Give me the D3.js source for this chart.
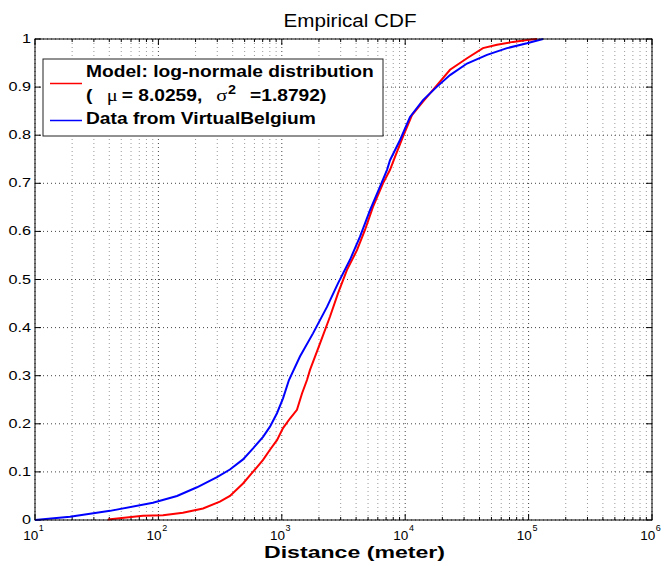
<!DOCTYPE html>
<html><head><meta charset="utf-8">
<script src="https://cdn.jsdelivr.net/npm/d3@7"></script>
<style>body{margin:0;background:#fff}svg{display:block}text{font-family:"Liberation Sans",Arial,Helvetica,sans-serif}</style>
</head><body><svg id="c" width="665" height="566"></svg>
<script>
// Data (distance in meters, cumulative probability)
const dataX = [10,19.2,40.6,90.3,141.5,205.6,298.5,380,485,585,705,802,914,1023,1143,1403,1790,2324,2853,3570,4303,5188,6252,7125,7535,9085,10943,13940,18110,23080,31700,46030,66840,97070,130900];
const dataY = [0,0.007,0.019,0.036,0.050,0.068,0.089,0.105,0.126,0.149,0.173,0.194,0.222,0.253,0.291,0.340,0.388,0.443,0.492,0.541,0.589,0.644,0.693,0.728,0.748,0.790,0.838,0.873,0.901,0.925,0.949,0.967,0.981,0.991,1.0];
const modelX = [39,75,109,158,230,315,380,485,630,705,802,914,1023,1165,1327,1458,1600,1693,2041,2460,2853,3374,4066,4721,5481,6607,7535,8265,9594,11350,13940,18110,23080,31700,42660,55460,74820,97070,117000];
const modelY = [0.001,0.009,0.010,0.015,0.024,0.038,0.050,0.076,0.110,0.125,0.146,0.166,0.191,0.211,0.229,0.263,0.291,0.312,0.367,0.423,0.471,0.520,0.561,0.603,0.651,0.700,0.728,0.755,0.797,0.842,0.870,0.904,0.936,0.960,0.981,0.988,0.994,0.998,1.0];
const xTickExps = [1,2,3,4,5,6];
const yTicks = [0,0.1,0.2,0.3,0.4,0.5,0.6,0.7,0.8,0.9,1];
const yTickLabels = ["0","0.1","0.2","0.3","0.4","0.5","0.6","0.7","0.8","0.9","1"];
const legendLabels = ["Model: log-normale distribution","Data from VirtualBelgium"];

const L=35,R=652,T=39,B=520;
const SX=1.2; // horizontal stretch of the reference's text
const svg=d3.select("#c");
const x=d3.scaleLog().domain([10,1e6]).range([L,R]);
const y=d3.scaleLinear().domain([0,1]).range([B,T]);

const minor=[];
for(let e=1;e<6;e++){for(let k=2;k<=9;k++){minor.push(k*Math.pow(10,e));}}
const major=xTickExps.map(e=>Math.pow(10,e));

const g=svg.append("g");
g.selectAll(".gm").data(minor).join("line").attr("x1",d=>x(d)).attr("x2",d=>x(d)).attr("y1",T).attr("y2",B)
 .attr("stroke","#999").attr("stroke-width",1).attr("stroke-dasharray","1,3");
g.selectAll(".gM").data(major).join("line").attr("x1",d=>x(d)).attr("x2",d=>x(d)).attr("y1",T).attr("y2",B)
 .attr("stroke","#444").attr("stroke-width",1).attr("stroke-dasharray","1,3");
g.selectAll(".gy").data(yTicks).join("line").attr("x1",L).attr("x2",R).attr("y1",d=>y(d)).attr("y2",d=>y(d))
 .attr("stroke","#444").attr("stroke-width",1).attr("stroke-dasharray","1,3");

const tk=svg.append("g").attr("stroke","#000").attr("stroke-width",1);
major.forEach(d=>{tk.append("line").attr("x1",x(d)).attr("x2",x(d)).attr("y1",B).attr("y2",B-6);
  tk.append("line").attr("x1",x(d)).attr("x2",x(d)).attr("y1",T).attr("y2",T+6);});
minor.forEach(d=>{tk.append("line").attr("x1",x(d)).attr("x2",x(d)).attr("y1",B).attr("y2",B-3);
  tk.append("line").attr("x1",x(d)).attr("x2",x(d)).attr("y1",T).attr("y2",T+3);});
yTicks.forEach(d=>{tk.append("line").attr("x1",L).attr("x2",L+6).attr("y1",y(d)).attr("y2",y(d));
  tk.append("line").attr("x1",R).attr("x2",R-6).attr("y1",y(d)).attr("y2",y(d));});

const line=d3.line().x(d=>x(d[0])).y(d=>y(d[1]));
svg.append("path").datum(modelX.map((v,i)=>[v,modelY[i]])).attr("d",line).attr("fill","none").attr("stroke","#ff0000").attr("stroke-width",2);
svg.append("path").datum(dataX.map((v,i)=>[v,dataY[i]])).attr("d",line).attr("fill","none").attr("stroke","#0000ff").attr("stroke-width",2);

svg.append("rect").attr("x",L).attr("y",T).attr("width",R-L).attr("height",B-T).attr("fill","none").attr("stroke","#000").attr("stroke-width",1);

// y labels
svg.selectAll(".yl").data(yTicks).join("text")
 .attr("transform",d=>`translate(31,${y(d)+4}) scale(${SX},1)`)
 .attr("text-anchor","end").attr("font-size",13.5).text((d,i)=>yTickLabels[i]);
// x labels: base "10" and exponent as separate texts
xTickExps.forEach(e=>{
  const px=x(Math.pow(10,e));
  svg.append("text").attr("x",px+3.2).attr("y",539.5).attr("text-anchor","end").attr("font-size",13.5).text("10");
  svg.append("text").attr("x",px+3.8).attr("y",531).attr("font-size",9).text(e);
});

svg.append("text").attr("x",350).attr("y",27).attr("text-anchor","middle").attr("font-size",17.5)
 .attr("textLength",133).attr("lengthAdjust","spacingAndGlyphs").text("Empirical CDF");
svg.append("text").attr("x",264).attr("y",558).attr("font-size",16.5).attr("font-weight","bold")
 .attr("textLength",181).attr("lengthAdjust","spacingAndGlyphs").text("Distance (meter)");

// legend
const lg=svg.append("g");
lg.append("rect").attr("x",43).attr("y",59).attr("width",340).attr("height",77).attr("fill","#fff").attr("stroke","#222").attr("stroke-width",1);
lg.append("line").attr("x1",50).attr("x2",82).attr("y1",83.5).attr("y2",83.5).attr("stroke","#ff0000").attr("stroke-width",1.5);
lg.append("line").attr("x1",50).attr("x2",82).attr("y1",120.5).attr("y2",120.5).attr("stroke","#0000ff").attr("stroke-width",1.5);
const lt=lg.append("g").attr("transform",`translate(86,0) scale(${SX},1)`).attr("font-size",16).attr("font-weight","bold");
lt.append("text").attr("x",0).attr("y",77.5).text(legendLabels[0]);
const t2=lt.append("text").attr("y",101);
t2.append("tspan").attr("x",0).text("(");
t2.append("tspan").attr("x",17.3).attr("font-family","Liberation Serif, Times New Roman, serif").attr("font-weight","normal").attr("font-size",17).text("μ");
t2.append("tspan").attr("x",29.8).text("= 8.0259,");
t2.append("tspan").attr("x",108.5).attr("font-family","Liberation Serif, Times New Roman, serif").attr("font-weight","normal").attr("font-size",17).text("σ");
t2.append("tspan").attr("x",118.3).attr("font-size",12).attr("dy",-7).text("2");
t2.append("tspan").attr("x",136.7).attr("dy",7).text("=1.8792)");
lt.append("text").attr("x",0).attr("y",124.5).text(legendLabels[1]);
</script></body></html>
